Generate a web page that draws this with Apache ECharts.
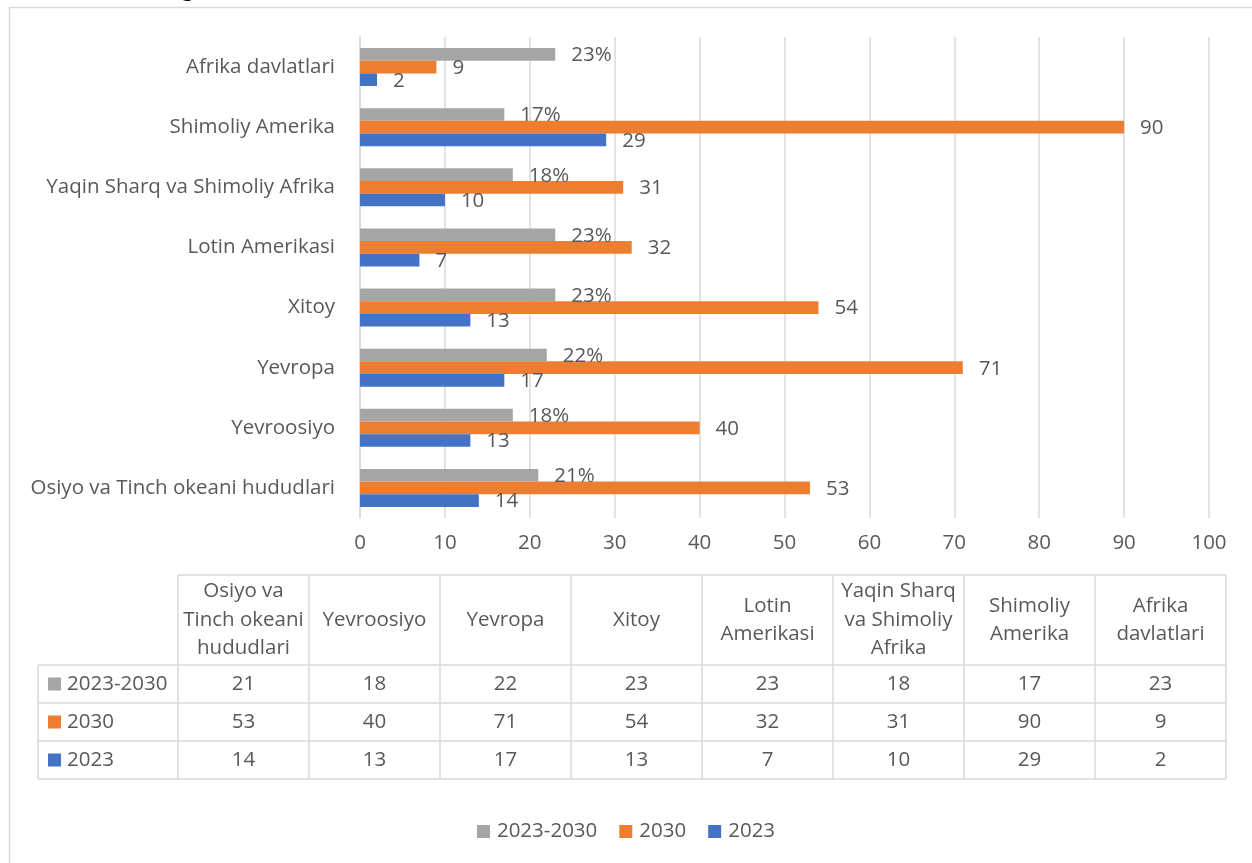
<!DOCTYPE html>
<html><head><meta charset="utf-8">
<script src="https://cdn.jsdelivr.net/npm/echarts@6/dist/echarts.min.js"></script>
<style>html,body{margin:0;padding:0;background:#fff}#c{width:1252px;height:863px}</style>
</head><body><div id="c"></div>
<script>
const categories = ['Osiyo va Tinch okeani hududlari','Yevroosiyo','Yevropa','Xitoy','Lotin Amerikasi','Yaqin Sharq va Shimoliy Afrika','Shimoliy Amerika','Afrika davlatlari'];
const tableHeaders = ['Osiyo va\nTinch okeani\nhududlari','Yevroosiyo','Yevropa','Xitoy','Lotin\nAmerikasi','Yaqin Sharq\nva Shimoliy\nAfrika','Shimoliy\nAmerika','Afrika\ndavlatlari'];
const seriesNames = ['2023-2030','2030','2023'];
const growth = [21,18,22,23,23,18,17,23];
const v2030 = [53,40,71,54,32,31,90,9];
const v2023 = [14,13,17,13,7,10,29,2];
const xTicks = [0,10,20,30,40,50,60,70,80,90,100];

const colors = ['#A5A5A5','#ED7D31','#4472C4'];
const values = [growth, v2030, v2023];
const FONT = '"Open Sans"';
const FS = 20.5;
const TXT = '#595959';

const chart = echarts.init(document.getElementById('c'));

const graphics = [];
graphics.push({type:'rect', shape:{x:9.5,y:7.5,width:1400,height:1000}, style:{fill:'none',stroke:'#D9D9D9',lineWidth:1.5}, silent:true});
graphics.push({type:'text', left:181, top:-24, style:{text:'g', font:'26px "Liberation Serif"', fill:'#000'}});

const tx0 = 178, colW = 131, nCol = categories.length, tx1 = tx0 + colW*nCol;
const hTop = 575, rTop = 665, rowH = 38, lx0 = 38;
const lineStyle = {stroke:'#D9D9D9', lineWidth:1.5};
function hline(x1,x2,y){graphics.push({type:'line',shape:{x1:x1,y1:y,x2:x2,y2:y},style:lineStyle,silent:true});}
function vline(x,y1,y2){graphics.push({type:'line',shape:{x1:x,y1:y1,x2:x,y2:y2},style:lineStyle,silent:true});}
hline(tx0, tx1, hTop);
for (let r=0;r<=seriesNames.length;r++) hline(lx0, tx1, rTop + r*rowH);
vline(lx0, rTop, rTop + rowH*seriesNames.length);
for (let c=0;c<=nCol;c++) vline(tx0 + c*colW, hTop, rTop + rowH*seriesNames.length);
tableHeaders.forEach((h,i)=>{
  graphics.push({type:'text', x: tx0 + colW*i + colW/2, y: (hTop+rTop)/2, style:{text:h, font:FS+'px '+FONT, fill:TXT, align:'center', verticalAlign:'middle', lineHeight:28.5}});
});
seriesNames.forEach((s,r)=>{
  const cy = rTop + rowH*r + rowH/2;
  graphics.push({type:'rect', shape:{x:48,y:cy-6.5,width:13,height:13}, style:{fill:colors[r]}});
  graphics.push({type:'text', x:67, y:cy, style:{text:s, font:FS+'px '+FONT, fill:TXT, verticalAlign:'middle'}});
  values[r].forEach((v,i)=>{
    graphics.push({type:'text', x: tx0 + colW*i + colW/2, y: cy, style:{text:String(v), font:FS+'px '+FONT, fill:TXT, align:'center', verticalAlign:'middle'}});
  });
});

const series = seriesNames.map((n,si)=>({
  name:n, type:'bar', data: values[si], barGap:'0%', barCategoryGap:'37%',
  itemStyle:{color:colors[si]},
  label:{show:true, position:'right', distance:16, offset:[0,1], color:TXT, fontFamily:FONT, fontSize:FS,
    formatter: si===0 ? (p=>p.value+'%') : (p=>String(p.value))}
}));

chart.setOption({
  animation:false,
  textStyle:{fontFamily:FONT},
  grid:{left:360, right:43, top:37, bottom:345, containLabel:false},
  legend:{bottom:16, left:'center', itemWidth:13, itemHeight:13, itemGap:22, icon:'rect',
    data:seriesNames, textStyle:{color:TXT, fontSize:FS, fontFamily:FONT, padding:[0,0,0,2]}},
  xAxis:{type:'value', min:0, max:100, interval:10,
    axisLine:{show:false}, axisTick:{show:false},
    splitLine:{lineStyle:{color:'#D9D9D9', width:1.5}},
    axisLabel:{color:TXT, fontSize:FS, fontFamily:FONT, margin:15,
      formatter: v => xTicks.includes(v) ? String(v) : ''}},
  yAxis:{type:'category', data:categories,
    axisLine:{show:true, lineStyle:{color:'#D9D9D9', width:1.5}}, axisTick:{show:false},
    axisLabel:{color:TXT, fontSize:FS, fontFamily:FONT, margin:25}},
  series: series,
  graphic: graphics
});
</script></body></html>
